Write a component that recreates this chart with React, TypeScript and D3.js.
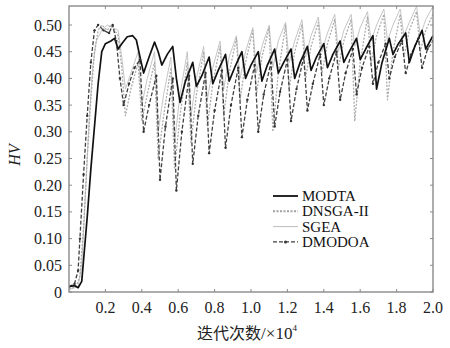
import React from "react";
import * as d3 from "d3";

type P = [number, number];

const xTicks = [0.2, 0.4, 0.6, 0.8, 1.0, 1.2, 1.4, 1.6, 1.8, 2.0];
const yTicks = [0, 0.05, 0.1, 0.15, 0.2, 0.25, 0.3, 0.35, 0.4, 0.45, 0.5];
const seriesNames = ["MODTA", "DNSGA-II", "SGEA", "DMODOA"];

const modta: P[] = [
  [0, 0.01], [0.03, 0.012], [0.05, 0.008], [0.07, 0.02], [0.08, 0.06], [0.1, 0.14], [0.12, 0.23], [0.14, 0.31],
  [0.16, 0.39], [0.18, 0.45], [0.2, 0.465], [0.23, 0.47], [0.25, 0.475], [0.27, 0.455], [0.29, 0.465], [0.32, 0.478],
  [0.35, 0.48], [0.37, 0.472],
  [0.39, 0.44], [0.41, 0.41], [0.44, 0.44], [0.47, 0.468],
  [0.49, 0.45], [0.51, 0.425], [0.54, 0.445], [0.57, 0.46],
  [0.59, 0.4], [0.61, 0.355], [0.64, 0.395], [0.68, 0.43],
  [0.7, 0.385], [0.73, 0.405], [0.77, 0.44],
  [0.79, 0.39], [0.82, 0.415], [0.86, 0.445],
  [0.88, 0.395], [0.91, 0.42], [0.95, 0.45],
  [0.97, 0.4], [1.0, 0.425], [1.04, 0.45],
  [1.06, 0.395], [1.09, 0.425], [1.13, 0.455],
  [1.15, 0.41], [1.18, 0.43], [1.22, 0.455],
  [1.24, 0.4], [1.27, 0.43], [1.31, 0.46],
  [1.33, 0.415], [1.36, 0.44], [1.4, 0.465],
  [1.42, 0.42], [1.45, 0.445], [1.49, 0.47],
  [1.51, 0.43], [1.54, 0.45], [1.58, 0.475],
  [1.6, 0.435], [1.63, 0.455], [1.67, 0.48],
  [1.69, 0.38], [1.72, 0.43], [1.76, 0.475],
  [1.78, 0.445], [1.81, 0.465], [1.85, 0.485],
  [1.87, 0.43], [1.9, 0.46], [1.94, 0.49],
  [1.96, 0.455], [2.0, 0.48],
];

const dmodoa: P[] = [
  [0, 0.01], [0.03, 0.015], [0.05, 0.04], [0.06, 0.1], [0.08, 0.22], [0.1, 0.33], [0.12, 0.43], [0.14, 0.49],
  [0.16, 0.5], [0.19, 0.49], [0.22, 0.485], [0.24, 0.5], [0.26, 0.47], [0.28, 0.4], [0.3, 0.35], [0.33, 0.39],
  [0.36, 0.42], [0.39, 0.435],
  [0.41, 0.3], [0.44, 0.35], [0.48, 0.405],
  [0.5, 0.21], [0.53, 0.31], [0.57, 0.4],
  [0.59, 0.19], [0.62, 0.3], [0.66, 0.405],
  [0.68, 0.24], [0.71, 0.33], [0.75, 0.41],
  [0.77, 0.26], [0.8, 0.34], [0.84, 0.415],
  [0.86, 0.27], [0.89, 0.35], [0.93, 0.42],
  [0.95, 0.29], [0.98, 0.36], [1.02, 0.425],
  [1.04, 0.3], [1.07, 0.37], [1.11, 0.43],
  [1.13, 0.31], [1.16, 0.375], [1.2, 0.435],
  [1.22, 0.32], [1.25, 0.38], [1.29, 0.44],
  [1.31, 0.34], [1.34, 0.39], [1.38, 0.445],
  [1.4, 0.35], [1.43, 0.4], [1.47, 0.45],
  [1.49, 0.36], [1.52, 0.41], [1.56, 0.455],
  [1.58, 0.37], [1.61, 0.42], [1.65, 0.46],
  [1.67, 0.39], [1.7, 0.43], [1.74, 0.465],
  [1.76, 0.4], [1.79, 0.44], [1.83, 0.47],
  [1.85, 0.41], [1.88, 0.445], [1.92, 0.475],
  [1.94, 0.42], [1.97, 0.455], [2.0, 0.47],
];

const dnsga: P[] = [
  [0, 0.005], [0.04, 0.01], [0.06, 0.03], [0.08, 0.12], [0.1, 0.25], [0.12, 0.36], [0.14, 0.45], [0.16, 0.49],
  [0.18, 0.5], [0.21, 0.49], [0.23, 0.5], [0.25, 0.49], [0.27, 0.48], [0.29, 0.42], [0.31, 0.33], [0.34, 0.38],
  [0.38, 0.43],
  [0.4, 0.32], [0.43, 0.37], [0.47, 0.43],
  [0.49, 0.25], [0.52, 0.33], [0.56, 0.42],
  [0.58, 0.23], [0.61, 0.33], [0.65, 0.43],
  [0.67, 0.28], [0.7, 0.37], [0.74, 0.45],
  [0.76, 0.31], [0.79, 0.39], [0.83, 0.46],
  [0.85, 0.33], [0.88, 0.41], [0.92, 0.475],
  [0.94, 0.36], [0.97, 0.43], [1.01, 0.49],
  [1.03, 0.37], [1.06, 0.44], [1.1, 0.495],
  [1.12, 0.3], [1.15, 0.41], [1.19, 0.5],
  [1.21, 0.38], [1.24, 0.45], [1.28, 0.5],
  [1.3, 0.4], [1.33, 0.46], [1.37, 0.505],
  [1.39, 0.41], [1.42, 0.465], [1.46, 0.51],
  [1.48, 0.42], [1.51, 0.47], [1.55, 0.51],
  [1.57, 0.32], [1.6, 0.43], [1.64, 0.515],
  [1.66, 0.43], [1.69, 0.48], [1.73, 0.52],
  [1.75, 0.36], [1.78, 0.45], [1.82, 0.52],
  [1.84, 0.44], [1.87, 0.49], [1.91, 0.525],
  [1.93, 0.45], [1.96, 0.49], [2.0, 0.52],
];

const sgea: P[] = [
  [0, 0.005], [0.05, 0.01], [0.07, 0.05], [0.09, 0.18], [0.11, 0.32], [0.13, 0.42], [0.15, 0.47], [0.18, 0.49],
  [0.21, 0.5], [0.24, 0.495], [0.27, 0.49], [0.29, 0.44], [0.31, 0.38], [0.35, 0.42], [0.38, 0.45],
  [0.4, 0.35], [0.43, 0.4], [0.47, 0.45],
  [0.49, 0.3], [0.52, 0.37], [0.56, 0.44],
  [0.58, 0.28], [0.61, 0.37], [0.65, 0.45],
  [0.67, 0.33], [0.7, 0.4], [0.74, 0.46],
  [0.76, 0.36], [0.79, 0.42], [0.83, 0.47],
  [0.85, 0.38], [0.88, 0.44], [0.92, 0.48],
  [0.94, 0.4], [0.97, 0.45], [1.01, 0.495],
  [1.03, 0.41], [1.06, 0.46], [1.1, 0.5],
  [1.12, 0.42], [1.15, 0.47], [1.19, 0.505],
  [1.21, 0.43], [1.24, 0.47], [1.28, 0.51],
  [1.3, 0.44], [1.33, 0.48], [1.37, 0.515],
  [1.39, 0.45], [1.42, 0.485], [1.46, 0.52],
  [1.48, 0.45], [1.51, 0.49], [1.55, 0.52],
  [1.57, 0.46], [1.6, 0.495], [1.64, 0.525],
  [1.66, 0.47], [1.69, 0.5], [1.73, 0.53],
  [1.75, 0.47], [1.78, 0.5], [1.82, 0.53],
  [1.84, 0.48], [1.87, 0.505], [1.91, 0.535],
  [1.93, 0.48], [1.96, 0.51], [2.0, 0.535],
];

const W = 450;
const H = 348;
const left = 69, right = 433, top = 6, bottom = 292;

const serifFont = "'Liberation Serif', 'Times New Roman', 'DejaVu Serif', serif";
const serifStyle = { fontFamily: serifFont };

export default function App() {
  const x = d3.scaleLinear().domain([0, 2.0]).range([left, right]);
  const y = d3.scaleLinear().domain([0, 0.5]).range([bottom, 25]);
  const line = d3.line<P>().x((d) => x(d[0])).y((d) => y(d[1]));

  const styles = [
    { data: sgea, stroke: "#c6c6c6", width: 1, dash: "none" },
    { data: dnsga, stroke: "#ababab", width: 1.3, dash: "2,1.5" },
    { data: dmodoa, stroke: "#404040", width: 1.3, dash: "4,2" },
    { data: modta, stroke: "#111", width: 1.7, dash: "none" },
  ];

  const legend = [
    { name: seriesNames[0], stroke: "#111", width: 1.8, dash: "none", dot: false },
    { name: seriesNames[1], stroke: "#a0a0a0", width: 2, dash: "2,1.5", dot: false },
    { name: seriesNames[2], stroke: "#bdbdbd", width: 1, dash: "none", dot: false },
    { name: seriesNames[3], stroke: "#404040", width: 1.4, dash: "4,2", dot: true },
  ];

  return (
    <svg width={W} height={H} style={{ position: "absolute", left: 0, top: 0, background: "#fff" }}>
      <defs>
        <clipPath id="plot">
          <rect x={left} y={top} width={right - left} height={bottom - top} />
        </clipPath>
      </defs>
      <rect x={0} y={0} width={W} height={H} fill="#fff" />
      <g clipPath="url(#plot)">
        {styles.map((s, i) => (
          <path key={i} d={line(s.data) || ""} fill="none" stroke={s.stroke} strokeWidth={s.width}
            strokeDasharray={s.dash} strokeLinejoin="round" />
        ))}
        {dmodoa.map((d, i) => (
          <circle key={"m" + i} cx={x(d[0])} cy={y(d[1])} r={1.2} fill="#333" />
        ))}
      </g>
      <rect x={left} y={top} width={right - left} height={bottom - top} fill="none" stroke="#8a8a8a" strokeWidth={1.4} />
      {yTicks.map((t) => (
        <g key={"y" + t}>
          <line x1={left} x2={left + 3} y1={y(t)} y2={y(t)} stroke="#8a8a8a" />
          <line x1={right} x2={right - 3} y1={y(t)} y2={y(t)} stroke="#8a8a8a" />
          <text x={62} y={y(t) + 5.5} textAnchor="end" style={serifStyle} fontSize={16} fill="#222">
            {t === 0 ? "0" : t.toFixed(2)}
          </text>
        </g>
      ))}
      {xTicks.map((t) => (
        <g key={"x" + t}>
          <line x1={x(t)} x2={x(t)} y1={bottom} y2={bottom - 3} stroke="#8a8a8a" />
          <line x1={x(t)} x2={x(t)} y1={top} y2={top + 3} stroke="#8a8a8a" />
          <text x={x(t)} y={313} textAnchor="middle" style={serifStyle} fontSize={16} fill="#222">
            {t.toFixed(1)}
          </text>
        </g>
      ))}
      <text transform="translate(20,155) rotate(-90)" textAnchor="middle" style={serifStyle} fontStyle="italic"
        fontSize={16} fill="#222">HV</text>
      <text x={247} y={339} textAnchor="middle" fontSize={16} fill="#222"
        style={{ fontFamily: "'Noto Sans CJK SC', serif" }}>
        迭代次数<tspan style={serifStyle} fontSize={17}>/×10</tspan>
        <tspan style={serifStyle} fontSize={9} dy={-8}>4</tspan>
      </text>
      {legend.map((l, i) => {
        const ly = 196 + i * 15.3;
        return (
          <g key={l.name}>
            <line x1={273} x2={298} y1={ly} y2={ly} stroke={l.stroke} strokeWidth={l.width} strokeDasharray={l.dash} />
            {l.dot && <circle cx={285.5} cy={ly} r={1.5} fill="#333" />}
            <text x={302} y={ly + 5} style={serifStyle} fontSize={15} fill="#111">{l.name}</text>
          </g>
        );
      })}
    </svg>
  );
}
